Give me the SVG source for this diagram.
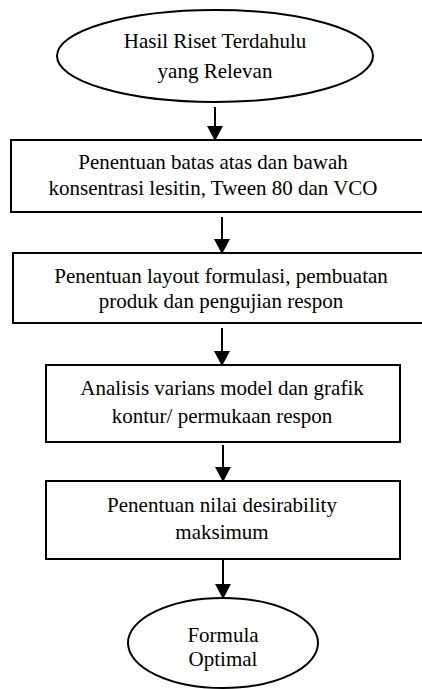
<svg xmlns="http://www.w3.org/2000/svg" width="422" height="689" viewBox="0 0 422 689">
<defs>
<style>
.shape{fill:#fff;stroke:#000;stroke-width:2}
.t{font-family:"Liberation Serif","Times New Roman",serif;font-size:21px;fill:#000;text-anchor:middle}
.c{stroke:#000;stroke-width:2;fill:none}
</style>
<marker id="ah" markerWidth="7.5" markerHeight="8" refX="6.5" refY="4" orient="auto" markerUnits="strokeWidth">
<path d="M0,0 L7.5,4 L0,8 Z" fill="#000"/>
</marker>
</defs>
<rect width="422" height="689" fill="#fff"/>
<g id="n1">
<ellipse class="shape" cx="215" cy="56" rx="158" ry="46"/>
<text class="t" x="215" y="48">Hasil Riset Terdahulu</text>
<text class="t" x="215" y="78">yang Relevan</text>
</g>
<g id="n2">
<rect class="shape" x="11" y="140" width="415" height="72"/>
<text class="t" x="213" y="169">Penentuan batas atas dan bawah</text>
<text class="t" x="213" y="195">konsentrasi lesitin, Tween 80 dan VCO</text>
</g>
<g id="n3">
<rect class="shape" x="13" y="253" width="413" height="70"/>
<text class="t" x="221" y="283">Penentuan layout formulasi, pembuatan</text>
<text class="t" x="221" y="308">produk dan pengujian respon</text>
</g>
<g id="n4">
<rect class="shape" x="46" y="365" width="354" height="77"/>
<text class="t" x="222" y="395">Analisis varians model dan grafik</text>
<text class="t" x="222" y="423">kontur/ permukaan respon</text>
</g>
<g id="n5">
<rect class="shape" x="46" y="481" width="354" height="78"/>
<text class="t" x="222" y="512">Penentuan nilai desirability</text>
<text class="t" x="222" y="539">maksimum</text>
</g>
<g id="n6">
<ellipse class="shape" cx="223" cy="643" rx="95" ry="45"/>
<text class="t" x="223" y="642">Formula</text>
<text class="t" x="223" y="666">Optimal</text>
</g>
<g id="connectors">
<line class="c" x1="215" y1="107" x2="215" y2="139" marker-end="url(#ah)"/>
<line class="c" x1="222" y1="217" x2="222" y2="252" marker-end="url(#ah)"/>
<line class="c" x1="222" y1="328" x2="222" y2="364" marker-end="url(#ah)"/>
<line class="c" x1="223" y1="445" x2="223" y2="480" marker-end="url(#ah)"/>
<line class="c" x1="223" y1="560" x2="223" y2="597" marker-end="url(#ah)"/>
</g>
</svg>
